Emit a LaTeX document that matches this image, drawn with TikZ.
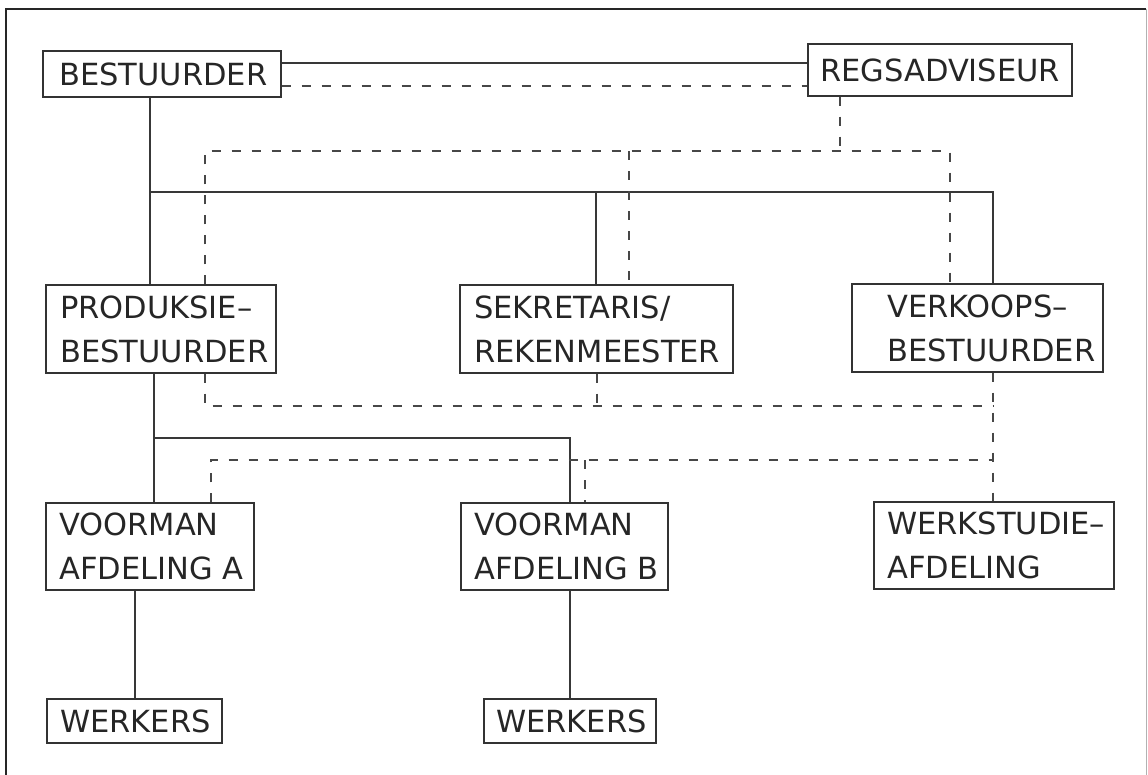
\documentclass[tikz,border=0pt]{standalone}
\usepackage{fontspec}
\setmainfont{DejaVu Sans}
\begin{document}
\begin{tikzpicture}[x=1pt,y=-1pt,
  box/.style={draw=black!80,line width=1.4pt,inner sep=0pt},
  lbl/.style={anchor=west,inner sep=0pt,align=left,text=black!85,
    font=\fontsize{30.5}{44}\selectfont},
  conn/.style={draw=black!78,line width=1.3pt},
  dsh/.style={draw=black!72,line width=1.4pt,dash pattern=on 9pt off 11pt}]
\useasboundingbox (0,0) rectangle (1148,774);
% frame
\draw[line width=1.6pt,draw=black!85] (6,800) -- (6,9) -- (1146,9);
\draw[line width=0.8pt,draw=black!30] (1146,9) -- (1146,800);
% boxes
\node[box,minimum width=238pt,minimum height=46pt] (b) at (162,74) {};
\node[lbl] (bt) at (59,74) {BESTUURDER};
\node[box,minimum width=264pt,minimum height=52pt] (r) at (940,70) {};
\node[lbl] (rt) at (820,70) {REGSADVISEUR};
\node[box,minimum width=230pt,minimum height=88pt] (p) at (161,329) {};
\node[lbl] (pt) at (60,329) {PRODUKSIE–\\BESTUURDER};
\node[box,minimum width=273pt,minimum height=88pt] (s) at (596.5,329) {};
\node[lbl] (st) at (474,329) {SEKRETARIS/\\REKENMEESTER};
\node[box,minimum width=251pt,minimum height=88pt] (v) at (977.5,328) {};
\node[lbl] (vt) at (887,328) {VERKOOPS–\\BESTUURDER};
\node[box,minimum width=208pt,minimum height=87pt] (va) at (150,546.5) {};
\node[lbl] (vat) at (59,546.5) {VOORMAN\\AFDELING A};
\node[box,minimum width=207pt,minimum height=87pt] (vb) at (564.5,546.5) {};
\node[lbl] (vbt) at (474,546.5) {VOORMAN\\AFDELING B};
\node[box,line width=1.9pt,minimum width=240pt,minimum height=87pt] (w) at (994,545.5) {};
\node[lbl] (wt) at (887,545.5) {WERKSTUDIE–\\AFDELING};
\node[box,minimum width=175pt,minimum height=44pt] (wa) at (134.5,721) {};
\node[lbl] (wat) at (60,721) {WERKERS};
\node[box,minimum width=172pt,minimum height=44pt] (wb) at (570,721) {};
\node[lbl] (wbt) at (496,721) {WERKERS};
% junction coordinates
\coordinate (j1) at (150,192); \coordinate (j2) at (596,192); \coordinate (j3) at (993,192);
\coordinate (d0) at (840,151); \coordinate (d1) at (205,151); \coordinate (d2) at (629,151); \coordinate (d3) at (950,151);
\coordinate (e1) at (205,406); \coordinate (e2) at (597,406); \coordinate (e3) at (993,406);
\coordinate (f1) at (211,460); \coordinate (f2) at (585,460); \coordinate (f3) at (993,460);
\coordinate (g1) at (154,438); \coordinate (g2) at (570,438);
\coordinate (k1) at (135,650); \coordinate (k2) at (570,650);
% solid connectors
\draw[conn] ([yshift=11pt]b.east) -- ([yshift=7pt]r.west);
\draw[conn] (b.south -| j1) -- (p.north -| j1);
\draw[conn] (j1) -- (j3) -- (v.north -| j3);
\draw[conn] (j2) -- (s.north -| j2);
\draw[conn] (p.south -| g1) -- (g1) -- (g2) -- (vb.north -| g2);
\draw[conn] (g1) -- (va.north -| g1);
\draw[conn] (va.south -| k1) -- (wa.north -| k1);
\draw[conn] (vb.south -| k2) -- (wb.north -| k2);
% dashed connectors
\draw[dsh] ([yshift=-12pt]b.east) -- ([yshift=-16pt]r.west);
\draw[dsh] (r.south -| d0) -- (d0);
\draw[dsh] (p.north -| d1) -- (d1) -- (d3) -- (v.north -| d3);
\draw[dsh] (d2) -- (s.north -| d2);
\draw[dsh] (p.south -| e1) -- (e1) -- (e3);
\draw[dsh] (s.south -| e2) -- (e2);
\draw[dsh] (v.south -| e3) -- (w.north -| e3);
\draw[dsh] (va.north -| f1) -- (f1) -- (f3);
\draw[dsh] (f2) -- (vb.north -| f2);
\end{tikzpicture}
\end{document}
